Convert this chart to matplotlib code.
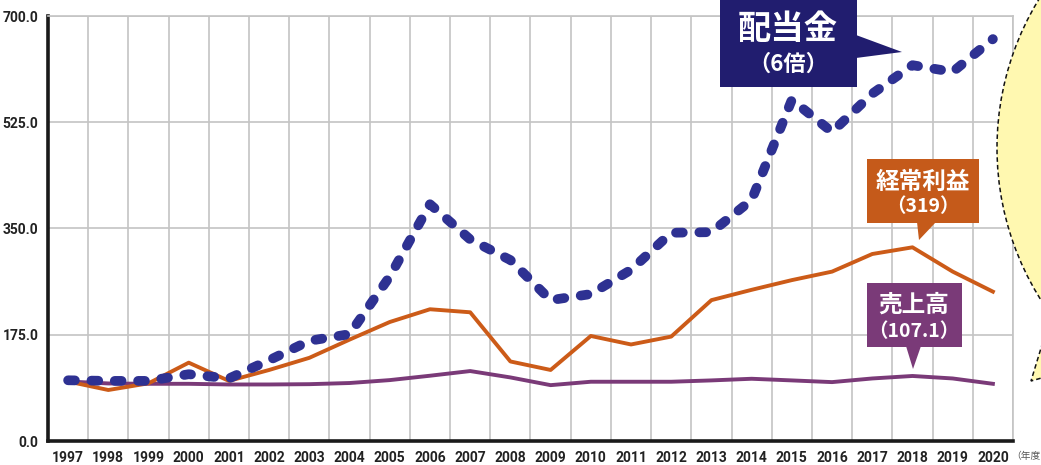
import matplotlib
matplotlib.use("Agg")
import matplotlib.pyplot as plt
from matplotlib.patches import Rectangle, Polygon, Circle
import numpy as np

plt.rcParams['font.family'] = ['Noto Sans CJK JP', 'DejaVu Sans']

# データ（1997年度 = 100）
years = [str(y) for y in range(1997, 2021)]
sales = [98, 94.8, 94.2, 94.2, 93.1, 93.1, 93.6, 95.5, 100.3, 107.5, 115.2, 104.7,
         92.0, 97.6, 97.6, 97.6, 99.8, 102.5, 99.8, 97.0, 103.0, 107.1, 103.0, 94.2]
ordinary = [98, 84, 95, 129, 99, 117, 137, 167, 196, 217, 212, 131,
            117, 173, 159, 172, 232, 249, 265, 279, 308, 319, 279, 246]
dividend = [100, 99, 99, 110, 103, 133, 165, 176, 271, 390, 332, 298,
            232, 242, 282, 343, 344, 397, 562, 509, 572, 619, 608, 662]
yticks = [0, 175, 350, 525, 700]

W, H = 1041, 465
fig = plt.figure(figsize=(W / 100, H / 100), dpi=100)
ax = fig.add_axes([48 / W, 24 / H, 965 / W, 425 / H])

x = np.arange(len(years))
ax.plot(x, sales, color='#7A3A78', lw=2.8, zorder=3)
ax.plot(x, ordinary, color='#CC5B18', lw=2.8, zorder=4)
ax.plot(x, dividend, color='#2E3192', lw=7, linestyle=(0, (0.7, 1.7)),
        dash_capstyle='round', zorder=5)

ax.set_xlim(-0.5, len(years) - 0.5)
ax.set_ylim(0, 700)
ax.set_xticks(x)
ax.set_xticklabels(years)
ax.set_xticks(np.arange(-0.5, len(years), 1), minor=True)
ax.set_yticks(yticks)
ax.set_yticklabels(['%.1f' % v for v in yticks])
ax.grid(which='minor', axis='x', color='#C4C4C4', lw=1.2)
ax.grid(which='major', axis='y', color='#C4C4C4', lw=1.2)
ax.grid(which='major', axis='x', visible=False)
ax.tick_params(which='both', length=0)
ax.tick_params(axis='y', pad=7)
ax.tick_params(axis='x', pad=7)
for lab in ax.get_xticklabels() + ax.get_yticklabels():
    lab.set_family(['Roboto', 'DejaVu Sans'])
    lab.set_fontweight('bold')
    lab.set_fontsize(10)
    lab.set_color('#222222')
for s in ['top', 'right']:
    ax.spines[s].set_color('#C4C4C4')
    ax.spines[s].set_linewidth(1.2)
for s in ['left', 'bottom']:
    ax.spines[s].set_color('#1a1a1a')
    ax.spines[s].set_linewidth(2.6)
ax.set_axisbelow(True)

# 装飾（ピクセル座標）
ov = fig.add_axes([0, 0, 1, 1])
ov.set_xlim(0, W)
ov.set_ylim(H, 0)
ov.axis('off')

ov.add_patch(Circle((1282, 148), 285, facecolor='#FFF8B0', edgecolor='#111111',
                    lw=1.1, linestyle=(0, (3, 2))))
ov.add_patch(Polygon([(1045, 335), (1031, 381), (1045, 377)], closed=True,
                     facecolor='#FFF8B0', edgecolor='#111111', lw=1.1,
                     linestyle=(0, (3, 2))))

# 配当金
ov.add_patch(Rectangle((720, -5), 137, 92, facecolor='#211D6F', lw=0))
ov.add_patch(Polygon([(856, 35), (856, 58), (902, 52)], facecolor='#211D6F', lw=0))
ov.text(788, 29, '配当金', color='white', fontsize=24, fontweight='bold',
        ha='center', va='center')
ov.text(788, 64, '（6倍）', color='white', fontsize=16, fontweight='bold',
        ha='center', va='center')

# 経常利益
ov.add_patch(Rectangle((867, 159), 112, 64, facecolor='#C55A1A', lw=0))
ov.add_patch(Polygon([(917, 222), (936, 222), (919, 240)], facecolor='#C55A1A', lw=0))
ov.text(923, 182, '経常利益', color='white', fontsize=17, fontweight='bold',
        ha='center', va='center')
ov.text(923, 207, '（319）', color='white', fontsize=14, fontweight='bold',
        ha='center', va='center')

# 売上高
ov.add_patch(Rectangle((867, 283), 95, 64, facecolor='#7A3A78', lw=0))
ov.add_patch(Polygon([(906, 346), (921, 346), (913, 369)], facecolor='#7A3A78', lw=0))
ov.text(914, 305, '売上高', color='white', fontsize=17, fontweight='bold',
        ha='center', va='center')
ov.text(914, 332, '（107.1）', color='white', fontsize=14, fontweight='bold',
        ha='center', va='center')

ov.text(1040, 456, '（年度', color='#555555', fontsize=7, ha='right', va='center')

fig.savefig('out.png', dpi=100)
